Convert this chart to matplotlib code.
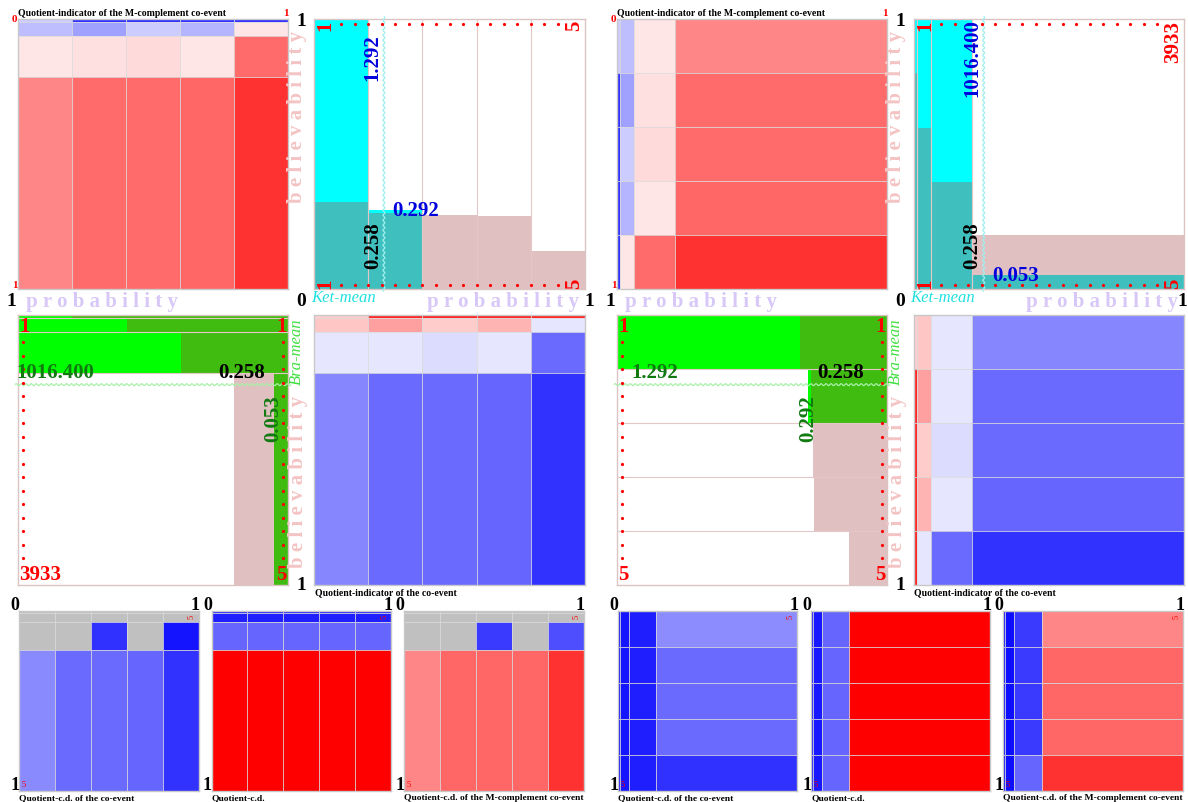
import numpy as np
import matplotlib
matplotlib.use("Agg")
import matplotlib.pyplot as plt

plt.rcParams["font.family"] = ["Liberation Serif", "DejaVu Serif"]

# ---------------------------------------------------------------- data
uniform_probs = [0.2, 0.2, 0.2, 0.2, 0.2]
skewed_probs = [0.01, 0.052, 0.153, 0.785]

uniform_believ = [0.323, 0.28, 0.274, 0.27, 0.142]
uniform_mean_bars = [1.0, 0.292, 0.0, 0.0, 0.0]
skewed_believ = [0.8, 0.597, 0.398, 0.2]
skewed_mean_bars = [1.0, 1.0, 1.0, 0.053]

mean_prob = 0.258
uniform_mean = 1.292
skewed_mean = 1016.400
uniform_last = 5
skewed_last = 3933

# quotient indicators, rows = skewed bins, columns = uniform bins
# (positive -> blue, negative -> red)
qi_co_event = [
    [-0.20, -0.85, -0.85, -0.85, -0.85],
    [-0.22, -0.37, -0.20, -0.29, 0.10],
    [0.10, 0.10, 0.14, 0.10, 0.58],
    [0.47, 0.58, 0.58, 0.60, 0.80],
]
qi_m_complement = [
    [0.20, 0.80, 0.80, 0.80, 0.80],
    [0.25, 0.37, 0.20, 0.29, -0.10],
    [-0.10, -0.12, -0.145, -0.10, -0.58],
    [-0.47, -0.58, -0.58, -0.60, -0.80],
]

nan = np.nan
# quotient conditional distributions, left block (rows skewed, cols uniform)
qcd_co_event_left = [
    [nan, nan, nan, nan, nan],
    [nan, nan, nan, nan, nan],
    [nan, nan, 0.81, nan, 0.92],
    [0.46, 0.58, 0.58, 0.60, 0.80],
]
qcd_left = [
    [0.87, 0.87, 0.87, 0.87, 0.87],
    [0.87, 0.87, 0.87, 0.87, 0.87],
    [0.60, 0.60, 0.60, 0.60, 0.60],
    [-1.0, -1.0, -1.0, -1.0, -1.0],
]
qcd_m_complement_left = [
    [nan, nan, nan, nan, nan],
    [nan, nan, nan, nan, nan],
    [nan, nan, 0.77, nan, 0.69],
    [-0.47, -0.60, -0.60, -0.60, -0.80],
]
# right block (rows uniform, cols skewed)
qcd_co_event_right = [
    [0.92, 0.92, 0.88, 0.45],
    [0.92, 0.92, 0.88, 0.58],
    [0.92, 0.92, 0.88, 0.58],
    [0.92, 0.92, 0.88, 0.58],
    [0.92, 0.92, 0.88, 0.81],
]
qcd_right = [
    [0.90, 0.90, 0.60, -1.0],
    [0.90, 0.90, 0.60, -1.0],
    [0.90, 0.90, 0.60, -1.0],
    [0.90, 0.90, 0.60, -1.0],
    [0.90, 0.90, 0.60, -1.0],
]
qcd_m_complement_right = [
    [0.94, 0.94, 0.77, -0.47],
    [0.94, 0.94, 0.77, -0.60],
    [0.94, 0.94, 0.77, -0.60],
    [0.94, 0.94, 0.77, -0.60],
    [0.94, 0.94, 0.60, -0.80],
]

# ---------------------------------------------------------------- styles
ROSY = "#E0C0C0"
CYAN = "#00FFFF"
TEAL = "#40BFBF"
LGREEN = "#00FF00"
DGREEN = "#40BC10"
BLUE_TXT = "#0000DD"
GREEN_TXT = "#107A10"
PINK_TXT = "#F4C4C4"
LAV_TXT = "#D8C8F8"
KET_TXT = "#20E0E0"
BRA_TXT = "#40E040"
WAVE_C = "#9FEFEF"
WAVE_G = "#A8F0A8"
SEP = "#E4C8C8"
RED = "#FF0000"

W, H = 1188, 803
fig = plt.figure(figsize=(W / 100, H / 100), dpi=100)

cmap = plt.get_cmap("bwr_r").copy()
cmap.set_bad("#C0C0C0")


def px_axes(x0, y0, x1, y1):
    return fig.add_axes([x0 / W, 1 - y1 / H, (x1 - x0) / W, (y1 - y0) / H])


def ftext(x, y, s, **kw):
    kw.setdefault("ha", "center")
    kw.setdefault("va", "center")
    fig.text(x / W, 1 - y / H, s, **kw)


def edges(w):
    return np.concatenate([[0.0], np.cumsum(w)])


def frame(ax, color):
    ax.set_xticks([])
    ax.set_yticks([])
    for s in ax.spines.values():
        s.set_color(color)
        s.set_linewidth(1.0)


def heat(box, row_w, col_w, vals):
    ax = px_axes(*box)
    v = np.ma.masked_invalid(np.array(vals, dtype=float))
    ax.pcolormesh(edges(col_w), edges(row_w), v, cmap=cmap, vmin=-1, vmax=1,
                  edgecolors=(0.86, 0.86, 0.86, 0.8), linewidth=0.5)
    ax.set_xlim(0, 1)
    ax.set_ylim(1, 0)
    frame(ax, "#C8C8C8")
    return ax


def wave():
    t = np.linspace(-0.008, 1.008, 900)
    return t, 0.0035 * np.sin(2 * np.pi * t * 270 / 5.0)


dot_pos = np.arange(0.1, 0.905, 0.05)
num_kw = dict(fontsize=15, fontweight="bold")


def vbar_panel(box, probs, believ, mbars, mean_val, last_label):
    ax = px_axes(*box)
    left = edges(probs)[:-1]
    believ = np.asarray(believ)
    mbars = np.asarray(mbars)
    ax.bar(left, believ, width=probs, align="edge", color=ROSY, lw=0)
    ax.bar(left, mbars, width=probs, align="edge", color=CYAN, lw=0)
    ax.bar(left, np.minimum(believ, mbars), width=probs, align="edge", color=TEAL, lw=0)
    ax.vlines(edges(probs)[1:-1], 0, 1, colors=SEP, lw=0.8, zorder=3)
    ax.set_xlim(0, 1)
    ax.set_ylim(0, 1)
    frame(ax, "#DCC4C4")
    for yy in (0.981, 0.016):
        ax.plot(dot_pos, np.full(dot_pos.size, yy), "o", color=RED, ms=2.3,
                mew=0, clip_on=False, zorder=5)
    t, w = wave()
    ax.plot(mean_prob + w, t, color=WAVE_C, lw=0.9, clip_on=False, zorder=4)
    idx = int(np.searchsorted(np.cumsum(probs), mean_prob))
    ax.text(mean_prob - 0.004, 0.86, f"{mean_val:.3f}", rotation=90, ha="right",
            va="center", color=BLUE_TXT, zorder=6, **num_kw)
    ax.text(mean_prob - 0.004, 0.163, f"{mean_prob:.3f}", rotation=90, ha="right",
            va="center", color="black", zorder=6, **num_kw)
    ax.text(mean_prob + 0.03, mbars[idx], f"{mbars[idx]:.3f}", ha="left",
            va="center", color=BLUE_TXT, zorder=6, **num_kw)
    tr = ax.transAxes
    ax.text(0.004, 0.997, "1", rotation=90, ha="left", va="top", color=RED, transform=tr, **num_kw)
    ax.text(0.996, 0.997, str(last_label), rotation=90, ha="right", va="top", color=RED, transform=tr, **num_kw)
    ax.text(0.004, 0.003, "1", rotation=90, ha="left", va="bottom", color=RED, transform=tr, **num_kw)
    ax.text(0.996, 0.003, str(uniform_last), rotation=90, ha="right", va="bottom", color=RED, transform=tr, **num_kw)
    return ax


def hbar_panel(box, probs, believ, mbars, mean_val, last_label):
    ax = px_axes(*box)
    top = edges(probs)[:-1]
    believ = np.asarray(believ)
    mbars = np.asarray(mbars)
    ax.barh(top, believ, height=probs, align="edge", color=ROSY, lw=0)
    ax.barh(top, mbars, height=probs, align="edge", color=LGREEN, lw=0)
    ax.barh(top, np.minimum(believ, mbars), height=probs, align="edge", color=DGREEN, lw=0)
    ax.hlines(edges(probs)[1:-1], 0, 1, colors=SEP, lw=0.8, zorder=3)
    ax.set_xlim(1, 0)
    ax.set_ylim(1, 0)
    frame(ax, "#DCC4C4")
    for xx in (0.981, 0.0185):
        ax.plot(np.full(dot_pos.size, xx), dot_pos, "o", color=RED, ms=2.3,
                mew=0, clip_on=False, zorder=5)
    t, w = wave()
    ax.plot(t[::-1] * 1.004 - 0.002, mean_prob + w, color=WAVE_G, lw=0.9,
            clip_on=False, zorder=4)
    idx = int(np.searchsorted(np.cumsum(probs), mean_prob))
    ax.text(0.86, mean_prob - 0.008, f"{mean_val:.3f}", ha="center", va="bottom",
            color=GREEN_TXT, zorder=6, **num_kw)
    ax.text(0.172, mean_prob - 0.008, f"{mean_prob:.3f}", ha="center", va="bottom",
            color="black", zorder=6, **num_kw)
    ax.text(mbars[idx], mean_prob + 0.035, f"{mbars[idx]:.3f}", rotation=90,
            ha="center", va="top", color=GREEN_TXT, zorder=6, **num_kw)
    tr = ax.transAxes
    ax.text(0.004, 0.997, "1", ha="left", va="top", color=RED, transform=tr, **num_kw)
    ax.text(0.996, 0.997, "1", ha="right", va="top", color=RED, transform=tr, **num_kw)
    ax.text(0.004, 0.003, str(last_label), ha="left", va="bottom", color=RED, transform=tr, **num_kw)
    ax.text(0.996, 0.003, str(uniform_last), ha="right", va="bottom", color=RED, transform=tr, **num_kw)
    return ax


big = dict(fontsize=14, fontweight="bold", color="black")
spaced_kw = dict(fontsize=15, fontweight="bold")
prob_word = " ".join("probability")
bel_word = " ".join("believability")

# ---------------------------------------------------------------- left block
heat((18, 20, 288, 290), skewed_probs, uniform_probs, qi_m_complement)
vbar_panel((314, 20, 585, 290), uniform_probs, uniform_believ, uniform_mean_bars,
           uniform_mean, uniform_last)
hbar_panel((18, 316, 288, 586), skewed_probs, skewed_believ, skewed_mean_bars,
           skewed_mean, skewed_last)
heat((314, 316, 585, 586), skewed_probs, uniform_probs, qi_co_event)

# ---------------------------------------------------------------- right block
heat((617, 20, 887, 290), uniform_probs, skewed_probs, np.array(qi_m_complement).T)
vbar_panel((914, 20, 1184, 290), skewed_probs, skewed_believ, skewed_mean_bars,
           skewed_mean, skewed_last)
hbar_panel((617, 316, 887, 586), uniform_probs, uniform_believ, uniform_mean_bars,
           uniform_mean, uniform_last)
heat((914, 316, 1184, 586), uniform_probs, skewed_probs, np.array(qi_co_event).T)

for dx in (0, 599):
    ftext(18 + dx, 14, "Quotient-indicator of the M-complement co-event", ha="left",
          fontsize=7.0, fontweight="bold")
    ftext(14.5 + dx, 19.5, "0", color=RED, fontsize=8, fontweight="bold")
    ftext(285.5 + dx, 14, "1", color=RED, fontsize=8, fontweight="bold")
    ftext(14.5 + dx, 286, "1", color=RED, fontsize=8, fontweight="bold")
    ftext(297 + dx, 117, bel_word, rotation=90, color=PINK_TXT, **spaced_kw)
    ftext(301 + dx, 22, "1", **big)
    ftext(11 + dx, 302, "1", **big)
    ftext(102 + dx, 302, prob_word, color=LAV_TXT, **spaced_kw)
    ftext(301 + dx, 302, "0", **big)
    ftext(344 + dx, 298, "Ket-mean", color=KET_TXT, fontsize=12, style="italic")
    ftext(503 + dx, 302, prob_word, color=LAV_TXT, **spaced_kw)
    ftext(min(589 + dx, 1182), 302, "1", **big)
    ftext(297 + dx, 352, "Bra-mean", rotation=90, color=BRA_TXT, fontsize=12, style="italic")
    ftext(298 + dx, 482, bel_word, rotation=90, color=PINK_TXT, **spaced_kw)
    ftext(301 + dx, 585, "1", **big)
    ftext(315 + dx, 592.5, "Quotient-indicator of the co-event", ha="left",
          fontsize=7.0, fontweight="bold")

# ---------------------------------------------------------------- bottom row
bottom = [
    ((19, 198.5), skewed_probs, uniform_probs, qcd_co_event_left, "Quotient-c.d. of the co-event"),
    ((211.5, 391), skewed_probs, uniform_probs, qcd_left, "Quotient-c.d."),
    ((404, 583.5), skewed_probs, uniform_probs, qcd_m_complement_left,
     "Quotient-c.d. of the M-complement co-event"),
    ((618, 797), uniform_probs, skewed_probs, qcd_co_event_right, "Quotient-c.d. of the co-event"),
    ((811, 990), uniform_probs, skewed_probs, qcd_right, "Quotient-c.d."),
    ((1003, 1183), uniform_probs, skewed_probs, qcd_m_complement_right,
     "Quotient-c.d. of the M-complement co-event"),
]
small = dict(fontsize=13, fontweight="bold", color="black")
for (x0, x1), rows, cols, vals, title in bottom:
    ax = heat((x0, 612, x1, 792), rows, cols, vals)
    ax.text(0.985, 0.985, "5", rotation=90, ha="right", va="top", color=RED,
            fontsize=6, transform=ax.transAxes)
    ax.text(0.015, 0.015, "5", ha="left", va="bottom", color=RED,
            fontsize=6, transform=ax.transAxes)
    ftext(x0 - 4, 606, "0", **small)
    ftext(x1 - 3, 606, "1", **small)
    ftext(x0 - 4, 786, "1", **small)
    ftext(x0, 798, title, ha="left", fontsize=6.8, fontweight="bold")

fig.savefig("out.png", dpi=100)
